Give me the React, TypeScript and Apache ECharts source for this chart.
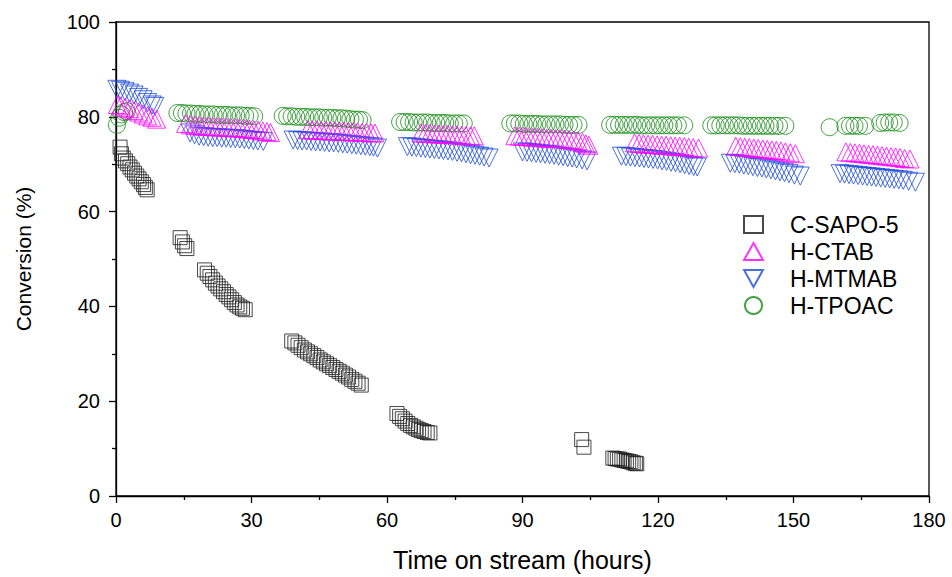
import React, { useEffect, useRef } from "react";
import * as echarts from "echarts";

// ---- Data (time in hours, conversion in %) ----
const seriesNames = ["C-SAPO-5", "H-CTAB", "H-MTMAB", "H-TPOAC"];

const csapo5: number[][] = [
  [0.9, 73.6], [1.2, 72.2], [1.6, 71.3], [2.1, 70.7], [2.6, 70.1], [3.1, 69.4], [3.6, 68.8], [4.1, 68.1],
  [4.6, 67.5], [5.1, 66.9], [5.6, 66.3], [6.1, 65.7], [6.5, 65.1], [6.9, 64.6],
  [14.2, 54.5], [14.7, 53.6], [15.2, 52.8], [15.7, 52.2],
  [19.6, 47.7], [20.2, 47.0], [20.8, 46.3], [21.4, 45.6], [22.0, 44.9], [22.6, 44.3], [23.2, 43.7],
  [23.8, 43.1], [24.4, 42.5], [25.0, 42.0], [25.6, 41.4], [26.2, 40.8], [26.8, 40.3], [27.4, 39.9],
  [28.0, 39.6], [28.6, 39.3],
  [38.9, 32.7], [39.6, 32.3], [40.3, 31.8], [41.0, 31.3], [41.7, 30.8], [42.4, 30.4], [43.1, 30.0],
  [43.8, 29.6], [44.5, 29.2], [45.2, 28.7], [45.9, 28.3], [46.6, 27.9], [47.3, 27.5], [48.0, 27.1],
  [48.7, 26.7], [49.4, 26.3], [50.1, 25.9], [50.8, 25.5], [51.5, 25.1], [52.2, 24.6], [52.9, 24.2],
  [53.6, 23.8], [54.3, 23.4],
  [62.2, 17.4], [62.8, 16.8], [63.4, 16.3], [64.0, 15.8], [64.6, 15.3], [65.2, 14.9], [65.8, 14.6],
  [66.4, 14.3], [67.0, 14.0], [67.6, 13.8], [68.2, 13.6], [68.9, 13.4], [69.5, 13.3],
  [103.1, 11.9], [103.6, 10.3],
  [110.0, 8.0], [110.5, 7.9], [111.0, 7.8], [111.5, 7.8], [112.0, 7.6], [112.5, 7.5], [113.0, 7.4],
  [113.5, 7.3], [114.0, 7.2], [114.5, 7.0], [115.0, 6.9], [115.3, 6.8],
];

const hCtab: number[][] = [
  [0.3, 82.6], [1, 82.3], [2, 82.0], [3, 81.7], [4, 81.3], [5, 81.0], [6, 80.6], [7, 80.2], [8, 79.9], [9, 79.5],
  [15.4, 78.6], [16.5, 78.3], [17.5, 78.2], [18.5, 78.1], [19.5, 78.0], [20.5, 78.0], [21.5, 77.9],
  [22.5, 77.9], [23.5, 77.8], [24.5, 77.8], [25.5, 77.7], [26.5, 77.7], [27.5, 77.6], [28.5, 77.5],
  [29.5, 77.4], [30.5, 77.3], [31.5, 77.2], [32.5, 77.0], [33.4, 76.9], [34.2, 76.7],
  [42.5, 77.3], [43.5, 77.2], [44.5, 77.2], [45.5, 77.1], [46.5, 77.1], [47.5, 77.0], [48.5, 77.0],
  [49.5, 77.0], [50.5, 76.9], [51.5, 76.9], [52.5, 76.8], [53.5, 76.8], [54.5, 76.7], [55.5, 76.7],
  [56.5, 76.6], [57.3, 76.6],
  [67.5, 76.6], [68.5, 76.5], [69.5, 76.5], [70.5, 76.4], [71.5, 76.4], [72.5, 76.3], [73.5, 76.3],
  [74.5, 76.2], [75.5, 76.2], [76.5, 76.1], [77.5, 76.1], [78.5, 76.0], [79.3, 76.0],
  [88.3, 76.0], [89.3, 75.9], [90.3, 75.9], [91.3, 75.8], [92.3, 75.7], [93.3, 75.7], [94.3, 75.6],
  [95.3, 75.5], [96.3, 75.5], [97.3, 75.4], [98.3, 75.4], [99.3, 75.3], [100.3, 75.2], [101.3, 75.1],
  [102.3, 74.9], [103.3, 74.6], [104.0, 74.3], [104.7, 74.0],
  [114.8, 74.5], [115.8, 74.4], [116.8, 74.3], [117.8, 74.2], [118.8, 74.2], [119.8, 74.1], [120.8, 74.0],
  [121.8, 74.0], [122.8, 73.9], [123.8, 73.8], [124.8, 73.8], [125.8, 73.7], [126.8, 73.6], [127.8, 73.5],
  [129.0, 73.4],
  [137.2, 73.8], [138.2, 73.7], [139.2, 73.6], [140.2, 73.5], [141.2, 73.4], [142.2, 73.3], [143.2, 73.2],
  [144.2, 73.1], [145.2, 73.0], [146.2, 72.9], [147.2, 72.8], [148.2, 72.6], [149.3, 72.4], [150.4, 72.2],
  [161.6, 72.6], [162.6, 72.5], [163.6, 72.4], [164.6, 72.3], [165.6, 72.2], [166.6, 72.1], [167.6, 72.0],
  [168.6, 71.9], [169.6, 71.8], [170.6, 71.7], [171.6, 71.6], [172.6, 71.5], [173.6, 71.4], [174.6, 71.2],
  [175.8, 71.1],
];

const hMtmab: number[][] = [
  [0.2, 85.8], [1, 85.6], [2, 85.3], [3, 85.0], [4, 84.6], [5, 84.1], [6, 83.6], [7, 83.0], [8, 82.5], [8.6, 82.2],
  [16.4, 76.6], [17.4, 76.2], [18.4, 75.9], [19.4, 75.8], [20.4, 75.7], [21.4, 75.6], [22.4, 75.6],
  [23.4, 75.5], [24.4, 75.5], [25.4, 75.4], [26.4, 75.4], [27.4, 75.3], [28.4, 75.2], [29.4, 75.1],
  [30.4, 75.0], [31.4, 74.9], [32.6, 74.8],
  [39.2, 75.1], [40.2, 75.0], [41.2, 74.9], [42.2, 74.9], [43.2, 74.8], [44.2, 74.7], [45.2, 74.7],
  [46.2, 74.6], [47.2, 74.5], [48.2, 74.5], [49.2, 74.4], [50.2, 74.3], [51.2, 74.2], [52.2, 74.1],
  [53.2, 74.0], [54.2, 73.9], [55.2, 73.8], [56.2, 73.7], [57.0, 73.6], [57.9, 73.4],
  [64.5, 73.7], [65.5, 73.6], [66.5, 73.5], [67.5, 73.4], [68.5, 73.3], [69.5, 73.2], [70.5, 73.1],
  [71.5, 73.0], [72.5, 72.9], [73.5, 72.8], [74.5, 72.7], [75.5, 72.5], [76.5, 72.4], [77.5, 72.2],
  [78.5, 72.0], [79.5, 71.9], [80.5, 71.7], [81.5, 71.5], [82.6, 71.3],
  [90.0, 72.6], [91.0, 72.5], [92.0, 72.4], [93.0, 72.3], [94.0, 72.2], [95.0, 72.1], [96.0, 72.0],
  [97.0, 71.9], [98.0, 71.7], [99.0, 71.6], [100.0, 71.4], [101.0, 71.3], [102.0, 71.1], [103.2, 70.9],
  [104.3, 70.7],
  [111.9, 71.7], [112.9, 71.6], [113.9, 71.5], [114.9, 71.4], [115.9, 71.3], [116.9, 71.2], [117.9, 71.1],
  [118.9, 71.0], [119.9, 70.9], [120.9, 70.7], [121.9, 70.6], [122.9, 70.4], [123.9, 70.3], [124.9, 70.1],
  [125.9, 69.9], [126.9, 69.7], [127.9, 69.5], [128.7, 69.4],
  [136.0, 70.2], [137.0, 70.1], [138.0, 70.0], [139.0, 69.8], [140.0, 69.7], [141.0, 69.5], [142.0, 69.3],
  [143.0, 69.2], [144.0, 69.0], [145.0, 68.8], [146.0, 68.6], [147.0, 68.4], [148.0, 68.2], [149.0, 68.0],
  [150.2, 67.7], [151.5, 67.5],
  [160.3, 68.0], [161.3, 67.9], [162.3, 67.8], [163.3, 67.7], [164.3, 67.6], [165.3, 67.5], [166.3, 67.4],
  [167.3, 67.3], [168.3, 67.2], [169.3, 67.1], [170.3, 67.0], [171.3, 66.9], [172.3, 66.8], [173.3, 66.7],
  [174.3, 66.6], [175.5, 66.4], [177.0, 66.2],
];

const hTpoac: number[][] = [
  [0.2, 78.3], [0.7, 79.8], [1.2, 80.5], [1.8, 81.0], [2.4, 81.2],
  [13.6, 80.8], [14.6, 80.8], [15.6, 80.7], [16.6, 80.7], [17.6, 80.6], [18.6, 80.6], [19.6, 80.5],
  [20.6, 80.5], [21.6, 80.5], [22.6, 80.4], [23.6, 80.4], [24.6, 80.4], [25.6, 80.3], [26.6, 80.3],
  [27.6, 80.3], [28.6, 80.2], [29.6, 80.2], [30.6, 80.1],
  [36.9, 80.2], [37.9, 80.1], [38.9, 80.1], [39.9, 80.0], [40.9, 80.0], [41.9, 80.0], [42.9, 79.9],
  [43.9, 79.9], [44.9, 79.9], [45.9, 79.8], [46.9, 79.8], [47.9, 79.8], [48.9, 79.7], [49.9, 79.7],
  [50.9, 79.6], [51.9, 79.5], [52.9, 79.4], [53.8, 79.4], [54.6, 79.3],
  [62.9, 78.9], [63.9, 78.9], [64.9, 78.9], [65.9, 78.8], [66.9, 78.8], [67.9, 78.8], [68.9, 78.8],
  [69.9, 78.7], [70.9, 78.7], [71.9, 78.7], [72.9, 78.7], [73.9, 78.6], [74.9, 78.6], [75.9, 78.6],
  [77.0, 78.6],
  [87.3, 78.6], [88.3, 78.6], [89.3, 78.6], [90.3, 78.5], [91.3, 78.5], [92.3, 78.5], [93.3, 78.5],
  [94.3, 78.4], [95.3, 78.4], [96.3, 78.4], [97.3, 78.4], [98.3, 78.4], [99.3, 78.3], [100.3, 78.3],
  [101.3, 78.3], [102.4, 78.3],
  [109.4, 78.3], [110.4, 78.3], [111.4, 78.3], [112.4, 78.3], [113.4, 78.3], [114.4, 78.3], [115.4, 78.3],
  [116.4, 78.2], [117.4, 78.2], [118.4, 78.2], [119.4, 78.2], [120.4, 78.2], [121.4, 78.2], [122.4, 78.2],
  [123.4, 78.2], [124.4, 78.2], [125.8, 78.2],
  [131.8, 78.2], [132.8, 78.2], [133.8, 78.2], [134.8, 78.2], [135.8, 78.2], [136.8, 78.2], [137.8, 78.2],
  [138.8, 78.1], [139.8, 78.1], [140.8, 78.1], [141.8, 78.1], [142.8, 78.1], [143.8, 78.1], [144.8, 78.1],
  [145.8, 78.1], [146.8, 78.1], [148.2, 78.1],
  [158.0, 77.8],
  [161.5, 78.1], [162.5, 78.1], [163.5, 78.1], [164.5, 78.1], [165.9, 78.1],
  [169.2, 78.7], [170.2, 78.8], [171.2, 78.8], [172.2, 78.8], [173.5, 78.7],
];

const xTicks = { min: 0, max: 180, interval: 30 };
const yTicks = { min: 0, max: 100, interval: 20 };

const colors = ["#1a1a1a", "#ff00ff", "#1c4bd8", "#138a13"];

const FONT = "'Liberation Sans', Arial, Helvetica, sans-serif";

export default function App() {
  const ref = useRef<HTMLDivElement>(null);

  useEffect(() => {
    if (!ref.current) return;
    const chart = echarts.init(ref.current, undefined, { renderer: "svg" });

    const hollow = (c: string) => ({
      color: "rgba(0,0,0,0)",
      borderColor: c,
      borderWidth: 1,
    });

    const axisCommon = {
      axisLine: { show: true, onZero: false, lineStyle: { color: "#000", width: 1.3 } },
      axisTick: { show: true, inside: false, length: 7, lineStyle: { color: "#000", width: 1.3 } },
      minorTick: { show: true, splitNumber: 2, length: 4, lineStyle: { color: "#000", width: 1.3 } },
      splitLine: { show: false },
      minorSplitLine: { show: false },
      axisLabel: { color: "#000", fontSize: 20, fontFamily: FONT },
      nameTextStyle: { color: "#000", fontFamily: FONT },
    };

    chart.setOption({
      animation: false,
      backgroundColor: "#fff",
      grid: {
        left: 116,
        right: 23,
        top: 22,
        bottom: 81,
        show: true,
        borderColor: "#000",
        borderWidth: 1.3,
        backgroundColor: "rgba(0,0,0,0)",
      },
      legend: {
        orient: "vertical",
        left: 743,
        top: 213,
        padding: 0,
        itemWidth: 19,
        itemHeight: 17,
        itemGap: 4,
        selectedMode: false,
        textStyle: { color: "#000", fontSize: 23, fontFamily: FONT, padding: [0, 0, 0, 22] },
        data: [
          { name: seriesNames[0] },
          { name: seriesNames[1] },
          { name: seriesNames[2], icon: "path://M0,0 L20,0 L10,18 Z" },
          { name: seriesNames[3] },
        ],
      },
      xAxis: {
        type: "value",
        ...xTicks,
        ...axisCommon,
        axisLabel: { ...axisCommon.axisLabel, margin: 14 },
        name: "Time on stream (hours)",
        nameLocation: "middle",
        nameGap: 51,
        nameTextStyle: { ...axisCommon.nameTextStyle, fontSize: 25 },
      },
      yAxis: {
        type: "value",
        ...yTicks,
        ...axisCommon,
        axisLabel: { ...axisCommon.axisLabel, margin: 16 },
        name: "Conversion (%)",
        nameLocation: "middle",
        nameGap: 82,
        nameTextStyle: { ...axisCommon.nameTextStyle, fontSize: 21 },
      },
      series: [
        {
          name: seriesNames[0],
          type: "scatter",
          symbol: "rect",
          symbolSize: 14,
          symbolKeepAspect: true,
          itemStyle: hollow(colors[0]),
          data: csapo5,
          z: 4,
        },
        {
          name: seriesNames[1],
          type: "scatter",
          symbol: "triangle",
          symbolSize: 18,
          symbolKeepAspect: true,
          itemStyle: hollow(colors[1]),
          data: hCtab,
          z: 3,
        },
        {
          name: seriesNames[2],
          type: "scatter",
          symbol: "triangle",
          symbolRotate: 180,
          symbolSize: 18,
          symbolKeepAspect: true,
          itemStyle: hollow(colors[2]),
          data: hMtmab,
          z: 2,
        },
        {
          name: seriesNames[3],
          type: "scatter",
          symbol: "circle",
          symbolSize: 17,
          symbolKeepAspect: true,
          itemStyle: hollow(colors[3]),
          data: hTpoac,
          z: 1,
        },
      ],
    });

    return () => chart.dispose();
  }, []);

  return (
    <div
      ref={ref}
      style={{ position: "fixed", left: 0, top: 0, width: 952, height: 577, background: "#fff" }}
    />
  );
}
